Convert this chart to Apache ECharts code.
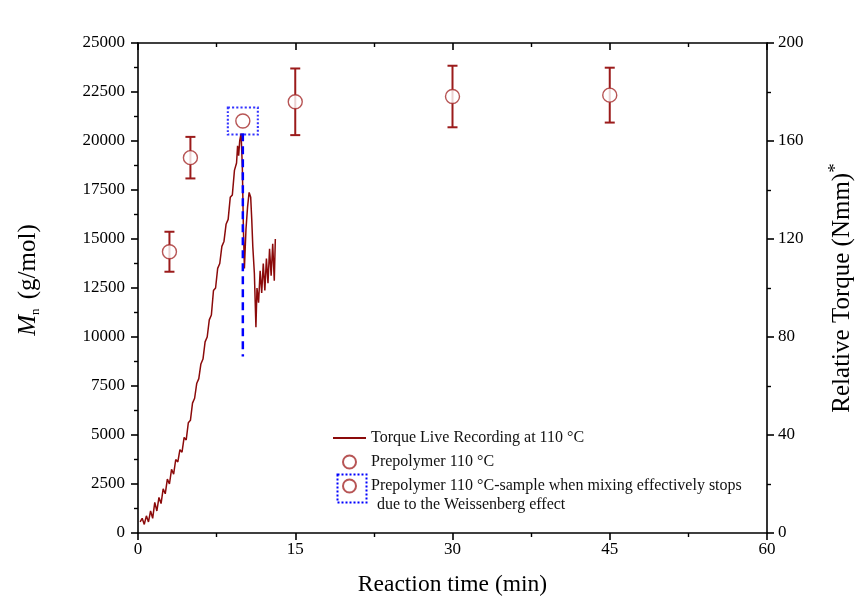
<!DOCTYPE html>
<html>
<head>
<meta charset="utf-8">
<title>Mn vs reaction time</title>
<script src="https://cdn.jsdelivr.net/npm/echarts@6/dist/echarts.min.js"></script>
<style>
	html, body { margin: 0; padding: 0; background: #fff; }
	#main { width: 861px; height: 607px; }
</style>
</head>
<body>
<div id="main"></div>
<script>
//扭矩实时记录 (min, Nmm)
var torqueTime = [0.2, 0.4, 0.6, 0.8, 1.0, 1.2, 1.4, 1.6, 1.8, 2.0, 2.2, 2.4, 2.6, 2.8, 3.0, 3.2, 3.4, 3.6, 3.8, 4.0,
	4.2, 4.4, 4.6, 4.8, 5.0, 5.2, 5.4, 5.6, 5.8, 6.0, 6.2, 6.4, 6.6, 6.8, 7.0, 7.2, 7.4, 7.6, 7.8, 8.0,
	8.2, 8.4, 8.6, 8.8, 9.0, 9.2, 9.4, 9.5, 9.6, 9.7, 9.83, 9.95, 10.05, 10.15, 10.3, 10.45, 10.6, 10.75, 10.85, 10.95,
	11.1, 11.25, 11.35, 11.5, 11.65, 11.8, 11.95, 12.1, 12.25, 12.4, 12.55, 12.7, 12.85, 13.0, 13.1];
var torqueValue = [4.5, 6, 3.5, 7, 4.5, 9, 6, 12.5, 9, 14.5, 12, 18, 16, 22, 20, 26, 24, 30, 29, 34,
	33, 39, 38, 45, 46, 53, 55, 61, 63, 69, 71, 78, 80, 87, 89, 99, 100, 108, 110, 117,
	119, 126, 128, 137, 138, 148, 151, 158, 154, 160, 163, 150, 125, 108, 124, 133, 139, 137, 128, 117,
	106, 84, 100, 94, 107, 98, 110, 99, 112, 102, 116, 105, 118, 103, 120];

//预聚物 Mn (g/mol) 及误差
var prepTime = [3, 5, 15, 30, 45];
var prepMn = [14350, 19150, 22000, 22270, 22340];
var prepErr = [1020, 1060, 1700, 1570, 1400];

//混合停止时的样品
var stopTime = [10];
var stopMn = [21020];

//Weissenberg 效应标记线
var markTime = [10, 10];
var markMn = [20400, 9000];

var serif = 'Liberation Serif';
var red = '#8b0a0a';
var nameTorque = 'Torque Live Recording at 110 °C';
var namePrep = 'Prepolymer 110 °C';
var nameStop = 'Prepolymer 110 °C-sample when mixing effectively stops';

var torqueData = [];
for(var i = 0; i < torqueTime.length; i++) {
	torqueData.push([torqueTime[i], torqueValue[i]]);
}
var prepData = [];
var errData = [];
for(var i = 0; i < prepTime.length; i++) {
	prepData.push([prepTime[i], prepMn[i]]);
	errData.push([prepTime[i], prepMn[i] - prepErr[i], prepMn[i] + prepErr[i]]);
}
var stopData = [];
for(var i = 0; i < stopTime.length; i++) {
	stopData.push([stopTime[i], stopMn[i]]);
}
var markData = [];
for(var i = 0; i < markTime.length; i++) {
	markData.push([markTime[i], markMn[i]]);
}

function axisLine() {
	return { show: true, onZero: false, lineStyle: { color: '#000', width: 1.6 } };
}
function tick(inside) {
	return { show: true, inside: inside, length: 7, lineStyle: { color: '#000', width: 1.6 } };
}
function minor() {
	return { show: true, splitNumber: 2, length: 4, lineStyle: { color: '#000', width: 1.4 } };
}
function label(margin) {
	return {
		color: '#000', fontFamily: serif, fontSize: 17, margin: margin,
		formatter: function(v) { return String(v); }
	};
}

var myChart = echarts.init(document.getElementById('main'));
var option = {
	backgroundColor: '#fff',
	animation: false,
	grid: { left: 138, right: 94, top: 43, bottom: 74, containLabel: false, outerBoundsMode: 'none' },
	legend: {
		orient: 'vertical',
		left: 332,
		top: 428,
		padding: 0,
		itemWidth: 33,
		itemHeight: 13,
		itemGap: 4,
		selectedMode: false,
		textStyle: { fontFamily: serif, fontSize: 16, color: '#111', lineHeight: 20 },
		data: [
			{ name: nameTorque, itemStyle: { opacity: 0 } },
			{ name: namePrep },
			{ name: nameStop }
		]
	},
	graphic: [{
		type: 'rect',
		left: 335,
		top: 472,
		shape: { width: 29, height: 28 },
		style: { fill: 'none', stroke: '#0000ff', lineWidth: 2, lineDash: [2, 2] },
		z: 100
	}, {
		type: 'text',
		left: 377,
		top: 497,
		style: { text: 'due to the Weissenberg effect', fontFamily: serif, fontSize: 16, fill: '#111' },
		z: 100
	}],
	xAxis: [{
		type: 'value',
		min: 0,
		max: 60,
		interval: 15,
		name: 'Reaction time (min)',
		nameLocation: 'middle',
		nameGap: 40,
		nameTextStyle: { fontFamily: serif, fontSize: 23.5, color: '#000' },
		axisLine: axisLine(),
		axisTick: tick(false),
		minorTick: minor(),
		axisLabel: label(8),
		splitLine: { show: false }
	}, {
		type: 'value',
		position: 'top',
		min: 0,
		max: 60,
		interval: 15,
		axisLine: axisLine(),
		axisTick: tick(true),
		minorTick: minor(),
		axisLabel: { show: false },
		splitLine: { show: false }
	}],
	yAxis: [{
		type: 'value',
		position: 'left',
		min: 0,
		max: 25000,
		interval: 2500,
		name: '{i|M}{s|n} (g/mol)',
		nameLocation: 'middle',
		nameGap: 96,
		nameTextStyle: {
			fontFamily: serif, fontSize: 25, color: '#000',
			padding: [0, 0, 0, 16],
			rich: {
				i: { fontFamily: serif, fontSize: 25, fontStyle: 'italic', color: '#000' },
				s: { fontFamily: serif, fontSize: 13, color: '#000', verticalAlign: 'bottom', padding: [14, 3, 0, 0] }
			}
		},
		axisLine: axisLine(),
		axisTick: tick(false),
		minorTick: minor(),
		axisLabel: label(13),
		splitLine: { show: false }
	}, {
		type: 'value',
		position: 'right',
		min: 0,
		max: 200,
		interval: 40,
		name: 'Relative Torque (Nmm){s|*}',
		nameLocation: 'middle',
		nameRotate: 90,
		nameGap: 60,
		nameTextStyle: {
			fontFamily: serif, fontSize: 25, color: '#000',
			rich: {
				s: { fontFamily: serif, fontSize: 19, color: '#000', verticalAlign: 'top', padding: [0, 0, 12, 0] }
			}
		},
		axisLine: axisLine(),
		axisTick: tick(false),
		minorTick: minor(),
		axisLabel: label(11),
		splitLine: { show: false }
	}],
	series: [{
		name: nameTorque,
		type: 'line',
		yAxisIndex: 1,
		data: torqueData,
		symbol: 'none',
		lineStyle: { color: red, width: 1.5 },
		itemStyle: { color: red },
		z: 2
	}, {
		name: 'Weissenberg',
		type: 'line',
		data: markData,
		symbol: 'none',
		lineStyle: { color: '#0000ff', width: 2.5, type: [8, 5] },
		z: 3
	}, {
		name: 'error',
		type: 'custom',
		data: errData,
		renderItem: function(params, api) {
			var lo = api.coord([api.value(0), api.value(1)]);
			var hi = api.coord([api.value(0), api.value(2)]);
			var st = { stroke: '#9b1b1b', lineWidth: 2 };
			return {
				type: 'group',
				children: [
					{ type: 'line', shape: { x1: lo[0], y1: lo[1], x2: hi[0], y2: hi[1] }, style: st },
					{ type: 'line', shape: { x1: lo[0] - 5, y1: lo[1], x2: lo[0] + 5, y2: lo[1] }, style: st },
					{ type: 'line', shape: { x1: hi[0] - 5, y1: hi[1], x2: hi[0] + 5, y2: hi[1] }, style: st }
				]
			};
		},
		z: 4
	}, {
		name: namePrep,
		type: 'scatter',
		data: prepData,
		symbol: 'circle',
		symbolSize: 14,
		itemStyle: { color: '#fff', borderColor: '#a52a2a', borderWidth: 1.4 },
		z: 5
	}, {
		name: nameStop,
		type: 'scatter',
		data: stopData,
		symbol: 'circle',
		symbolSize: 14,
		itemStyle: { color: '#fff', borderColor: '#a52a2a', borderWidth: 1.4 },
		z: 6
	}, {
		name: 'box',
		type: 'scatter',
		data: stopData,
		symbol: 'rect',
		symbolSize: [30, 27],
		itemStyle: { color: 'rgba(0,0,0,0)', borderColor: '#0000ff', borderWidth: 2, borderType: [2, 2] },
		z: 7
	}]
};
myChart.setOption(option);
</script>
</body>
</html>
